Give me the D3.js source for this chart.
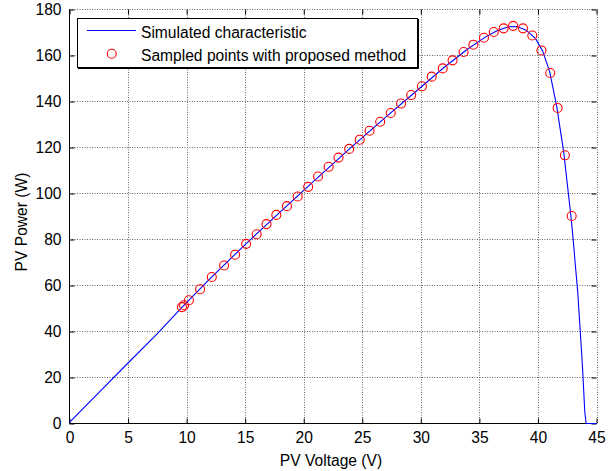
<!DOCTYPE html>
<html>
<head>
<meta charset="utf-8">
<script src="https://cdn.jsdelivr.net/npm/d3@7"></script>
<style>
  html, body { margin: 0; padding: 0; background: #fff; }
  svg { display: block; }
  text { font-family: "Liberation Sans", Arial, Helvetica, sans-serif; fill: #000; }
</style>
</head>
<body>
<svg id="chart" width="616" height="471"></svg>
<script>
// Simulated characteristic (PV voltage V, PV power W)
const curveV = [0, 2.5, 5, 7.5, 9.6, 12, 15, 18, 21, 24, 27, 30, 32, 34, 35.5, 36.5, 37.5, 38.2, 39, 39.8, 40.4, 41, 41.6, 42.2, 42.8, 43.0, 43.2, 43.4, 43.6, 43.8, 44.0, 44.12, 45];
const curveP = [0.5, 13.4, 26.3, 39.1, 50.5, 63.0, 77.8, 92.0, 106.0, 119.8, 133.2, 146.2, 154.9, 162.8, 168.0, 170.8, 172.5, 172.6, 171.0, 167.3, 162.0, 153.0, 138.0, 118.0, 91.0, 80.5, 68.5, 57.0, 41.0, 25.0, 5.0, 0, 0];

// Sampled points with proposed method
const sampleV = [9.6, 9.78, 10.2, 11.15, 12.15, 13.2, 14.14, 15.08, 15.98, 16.82, 17.66, 18.57, 19.48, 20.38, 21.22, 22.13, 22.97, 23.88, 24.78, 25.62, 26.53, 27.43, 28.31, 29.18, 30.09, 30.93, 31.87, 32.71, 33.65, 34.49, 35.39, 36.23, 37.07, 37.88, 38.72, 39.52, 40.3, 41.05, 41.68, 42.3, 42.88];
const sampleP = [50.6, 51.4, 53.6, 58.4, 63.7, 68.7, 73.4, 78.1, 82.3, 86.7, 90.7, 94.5, 98.7, 102.9, 107.4, 111.6, 115.6, 119.4, 123.4, 127.3, 131.2, 135.0, 139.1, 142.8, 146.6, 150.8, 154.4, 157.9, 161.5, 164.7, 167.7, 170.2, 171.8, 172.9, 171.8, 168.7, 162.2, 152.4, 137.2, 116.6, 90.2];

const xTicks = [0, 5, 10, 15, 20, 25, 30, 35, 40, 45];
const yTicks = [0, 20, 40, 60, 80, 100, 120, 140, 160, 180];
const xLabel = "PV Voltage (V)";
const yLabel = "PV Power (W)";
const legendLabels = ["Simulated characteristic", "Sampled points with proposed method"];

const svg = d3.select("#chart");
const L = 69.5, R = 596.5, T = 9.5, B = 423.5;
const x = d3.scaleLinear().domain([0, 45]).range([L, R]);
const y = d3.scaleLinear().domain([0, 180]).range([B, T]);

// grid
const grid = svg.append("g").attr("stroke", "#666").attr("stroke-width", 1).attr("stroke-dasharray", "1,1.5");
grid.selectAll("line.gx").data(xTicks.filter(d => d > 0)).join("line")
  .attr("x1", d => Math.round(x(d)) + 0.5).attr("x2", d => Math.round(x(d)) + 0.5)
  .attr("y1", T).attr("y2", B);
grid.selectAll("line.gy").data(yTicks.filter(d => d > 0)).join("line")
  .attr("y1", d => Math.round(y(d) - 0.5) + 0.5).attr("y2", d => Math.round(y(d) - 0.5) + 0.5)
  .attr("x1", L).attr("x2", R);

// axes
const fs = 15.6;
const xAxis = d3.axisBottom(x).tickValues(xTicks).tickSize(-5).tickPadding(8).tickFormat(d3.format("d"));
const gx = svg.append("g").attr("transform", `translate(0,${B})`).call(xAxis);
const yAxis = d3.axisLeft(y).tickValues(yTicks).tickSize(-5).tickPadding(8).tickFormat(d3.format("d"));
const gy = svg.append("g").attr("transform", `translate(${L},0)`).call(yAxis);
const xTop = d3.axisTop(x).tickValues(xTicks).tickSize(-5).tickFormat("");
svg.append("g").attr("transform", `translate(0,${T})`).call(xTop).call(g => g.select(".domain").remove());
const yRight = d3.axisRight(y).tickValues(yTicks).tickSize(-5).tickFormat("");
svg.append("g").attr("transform", `translate(${R},0)`).call(yRight).call(g => g.select(".domain").remove());
[gx, gy].forEach(g => {
  g.selectAll("text").attr("font-size", fs).attr("font-family", '"Liberation Sans", Arial, sans-serif').attr("fill", "#000");
  g.selectAll("line, path").attr("stroke", "#000");
});
gx.select(".domain").attr("d", `M${L},0H${R}`);
gy.select(".domain").attr("d", `M0,${B}V${T}`);

// curve
const line = d3.line().x((d, i) => x(curveV[i])).y((d, i) => y(curveP[i]));
svg.append("path").datum(curveV).attr("d", line)
  .attr("fill", "none").attr("stroke", "#0000ff").attr("stroke-width", 1.1);

// samples
svg.append("g").selectAll("circle").data(sampleV).join("circle")
  .attr("cx", (d, i) => x(sampleV[i])).attr("cy", (d, i) => y(sampleP[i]))
  .attr("r", 4.5).attr("fill", "none").attr("stroke", "#ff0000").attr("stroke-width", 1.1);

// axis labels
svg.append("text").attr("x", 331).attr("y", 466).attr("text-anchor", "middle").attr("font-size", fs).text(xLabel);
svg.append("text").attr("transform", "translate(27,222) rotate(-90)").attr("text-anchor", "middle").attr("font-size", fs).text(yLabel);

// legend
const lg = svg.append("g");
lg.append("rect").attr("x", 77.5).attr("y", 18.5).attr("width", 340).attr("height", 49)
  .attr("fill", "#fff").attr("stroke", "#000").attr("stroke-width", 1);
lg.append("path").attr("d", "M418.5,19V68.5H78").attr("fill", "none").attr("stroke", "#000").attr("stroke-width", 1);
lg.append("line").attr("x1", 87).attr("x2", 136).attr("y1", 30.5).attr("y2", 30.5).attr("stroke", "#0000ff").attr("stroke-width", 1.1);
lg.append("circle").attr("cx", 111.7).attr("cy", 53.7).attr("r", 4.5).attr("fill", "none").attr("stroke", "#ff0000").attr("stroke-width", 1.1);
lg.selectAll("text").data(legendLabels).join("text")
  .attr("x", 141).attr("y", (d, i) => i === 0 ? 37.8 : 60.5).attr("font-size", fs).text(d => d);
</script>
</body>
</html>
